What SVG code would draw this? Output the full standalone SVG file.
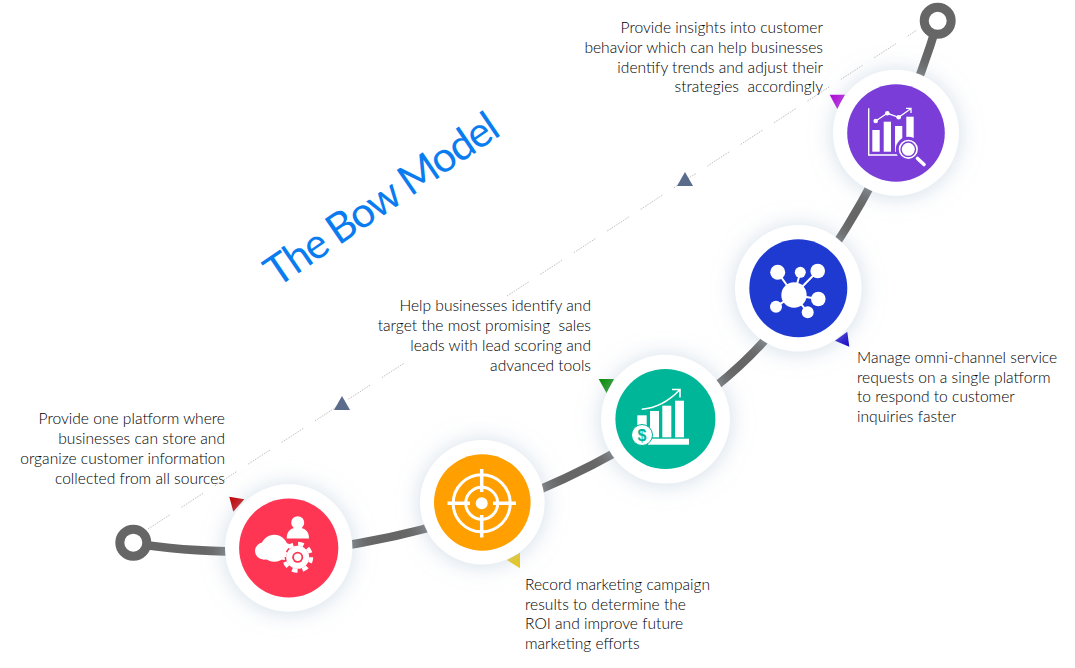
<svg xmlns="http://www.w3.org/2000/svg" width="1075" height="668" viewBox="0 0 1075 668">
<defs>
<style>
.t{font-family:"Lato","Liberation Sans",sans-serif;font-weight:300;font-size:15.6px;fill:#000}
.r{text-anchor:end}
.w{fill:#fff}
.ws{fill:none;stroke:#fff}
.dash{stroke:#c0c0c0;stroke-width:1;fill:none;stroke-dasharray:1.5 1.2 1.5 1.2 1.5 1.2 1.5 1.2 1.5 1.2 1.5 1.2 1.5 1.2 1.5 1.2 1.5 1.2 1.5 14}
</style>
<filter id="sh" x="-40%" y="-40%" width="180%" height="180%"><feDropShadow dx="0" dy="1" stdDeviation="11" flood-color="#b9cbdc" flood-opacity=".65"/></filter>
</defs>
<rect width="1075" height="668" fill="#fff"/>
<g id="connectors">
<path d="M148 529L409 360M507 296L917 30" class="dash"/>
<path d="M133 543C190 553 290 556 360 543C450 527 540 495 620 450C690 410 745 370 790 310C830 255 865 205 900 125C915 90 928 55 938 21" fill="none" stroke="#666" stroke-width="8.5"/>
<polygon points="342,396 334,410 350,410" fill="#5a6b8c"/>
<polygon points="685,172 677,186 693,186" fill="#5a6b8c"/>
</g>
<g id="ring-start"><circle cx="133.3" cy="542.7" r="13.5" fill="#fff" stroke="#666" stroke-width="9"/></g>
<g id="ring-end"><circle cx="937.7" cy="20.8" r="13.5" fill="#fff" stroke="#666" stroke-width="9"/></g>
<text id="title" transform="translate(277 288) rotate(-34.3)" font-family="Lato,'Liberation Sans',sans-serif" font-weight="400" font-size="42" fill="#0a7cf0" textLength="273">The Bow Model</text>

<g id="node-store">
<polygon points="229.3,496.7 244.3,499.3 233.3,511.7" fill="#c00000"/>
<circle cx="288.7" cy="548" r="63.7" fill="#fff" filter="url(#sh)"/>
<circle cx="288.7" cy="548" r="49.6" fill="#fe3654"/>
<circle class="w" cx="297.7" cy="522.7" r="6.5"/>
<path class="w" d="M286.7 538.5C286.7 531 291 527.5 297.7 527.5C304.5 527.5 309 531 309 538.5Z"/>
<circle class="w" cx="274.3" cy="548.3" r="13.5"/><circle class="w" cx="263.5" cy="551" r="8.5"/><circle class="w" cx="285" cy="551.5" r="8.5"/>
<rect class="w" x="263" y="550" width="24" height="9.5"/>
<circle cx="297.7" cy="557.3" r="13" fill="#fe3654"/>
<circle class="w" cx="297.7" cy="557.3" r="11.5"/>
<circle class="ws" cx="297.7" cy="557.3" r="13.5" stroke-width="4" stroke-dasharray="5.6 5"/>
<circle cx="297.7" cy="557.3" r="5.5" fill="#fe3654"/><circle class="w" cx="297.7" cy="557.3" r="3.7"/>
</g>

<g id="node-campaign">
<polygon points="506.7,560 520,552.7 520,568.3" fill="#eac50a"/>
<circle cx="482.3" cy="502.3" r="62.3" fill="#fff" filter="url(#sh)"/>
<circle cx="482.3" cy="502.5" r="48.3" fill="#ff9f00"/>
<circle class="w" cx="481.7" cy="503.3" r="6"/>
<circle class="ws" cx="481.7" cy="503.3" r="16" stroke-width="3"/>
<circle class="ws" cx="481.7" cy="503.3" r="28.5" stroke-width="3"/>
<path class="ws" stroke-width="3.5" d="M481.7 469V492M481.7 515V537.5M447.5 503.3H470M493 503.3H516"/>
</g>

<g id="node-leads">
<polygon points="598.7,379 614,379 606.7,393.3" fill="#008a00"/>
<circle cx="665.5" cy="419.2" r="64.4" fill="#fff" filter="url(#sh)"/>
<circle cx="665.4" cy="419" r="50" fill="#00b699"/>
<rect class="w" x="637.3" y="415.3" width="9.4" height="14"/>
<rect class="w" x="650" y="411" width="9" height="26.3"/>
<rect class="w" x="662.3" y="405.7" width="9" height="31.6"/>
<rect class="w" x="675" y="400.7" width="9" height="36.6"/>
<rect class="w" x="648" y="438.7" width="41" height="6"/>
<circle class="w" cx="642" cy="435" r="10.5" stroke="#00b699" stroke-width="1"/>
<text x="642" y="441" text-anchor="middle" font-family="'Liberation Sans',sans-serif" font-weight="700" font-size="16" fill="#00b699">$</text>
<path class="ws" stroke-width="1.6" d="M641.7 409.3C657 408 669 401 679.5 390M672 389.5H680V397.5"/>
</g>

<g id="node-service">
<polygon points="835,340.7 847.3,331.7 849.3,346.7" fill="#1200c8"/>
<circle cx="798.3" cy="288.3" r="63.3" fill="#fff" filter="url(#sh)"/>
<circle cx="798.3" cy="288.3" r="49" fill="#1f3ad0"/>
<path class="ws" stroke-width="2" d="M794 295L777.7 272.3M794 295L800.3 272.3M794 295L817.7 271M794 295L818.3 299M794 295L807.7 312.3M794 295L776 306.7"/>
<circle class="w" cx="794" cy="295" r="12.7"/>
<circle class="w" cx="777.7" cy="272.3" r="7.5"/><circle class="w" cx="800.3" cy="272.3" r="5.5"/><circle class="w" cx="817.7" cy="271" r="7.3"/><circle class="w" cx="818.3" cy="299" r="7.3"/><circle class="w" cx="807.7" cy="312.3" r="6"/><circle class="w" cx="776" cy="306.7" r="6"/>
</g>

<g id="node-insights">
<polygon points="829.7,94.7 845,94.7 837.3,109" fill="#b000d8"/>
<circle cx="896" cy="132.8" r="63" fill="#fff" filter="url(#sh)"/>
<circle cx="896" cy="133" r="48.8" fill="#7a3dd8"/>
<path class="ws" stroke-width="1.4" d="M868.7 108.3V155H900"/>
<rect class="w" x="872.3" y="130" width="7.4" height="21.7"/>
<rect class="w" x="883.7" y="121.7" width="7.3" height="30"/>
<rect class="w" x="895" y="126" width="7.3" height="25.7"/>
<rect class="w" x="906.3" y="116.7" width="7.4" height="21.6"/>
<path class="ws" stroke-width="1.3" d="M875.7 121L887.3 113.3L898.7 117.3L910.7 108.7M906 108.3H911V113"/>
<circle class="w" cx="875.7" cy="121" r="2.3"/><circle class="w" cx="887.3" cy="113.3" r="2.3"/><circle class="w" cx="898.7" cy="117.3" r="2.3"/>
<circle cx="908.3" cy="149.3" r="12.5" fill="#7a3dd8"/>
<circle cx="908.3" cy="149.3" r="8.8" fill="#7a3dd8" stroke="#fff" stroke-width="1.6"/>
<circle class="w" cx="908.3" cy="149.3" r="6.5"/>
<path class="ws" stroke-width="3.6" stroke-linecap="round" d="M917.5 158.5L924 164.5"/>
</g>

<g id="labels">
<text class="t r"><tspan x="225" y="424">Provide one platform where</tspan><tspan x="225" y="444">businesses can store and</tspan><tspan x="225" y="464">organize customer information</tspan><tspan x="225" y="484">collected from all sources</tspan></text>
<text class="t"><tspan x="525" y="590">Record marketing campaign</tspan><tspan x="525" y="610">results to determine the</tspan><tspan x="525" y="629">ROI and improve future</tspan><tspan x="525" y="649">marketing efforts</tspan></text>
<text class="t r" xml:space="preserve"><tspan x="591" y="311">Help businesses identify and</tspan><tspan x="591" y="331">target the most promising  sales</tspan><tspan x="591" y="351">leads with lead scoring and</tspan><tspan x="591" y="371">advanced tools</tspan></text>
<text class="t"><tspan x="857" y="363">Manage omni-channel service</tspan><tspan x="857" y="383">requests on a single platform</tspan><tspan x="857" y="402">to respond to customer</tspan><tspan x="857" y="422">inquiries faster</tspan></text>
<text class="t r" xml:space="preserve"><tspan x="823" y="33">Provide insights into customer</tspan><tspan x="823" y="53">behavior which can help businesses</tspan><tspan x="823" y="73">identify trends and adjust their</tspan><tspan x="823" y="92">strategies  accordingly</tspan></text>
</g>
</svg>
